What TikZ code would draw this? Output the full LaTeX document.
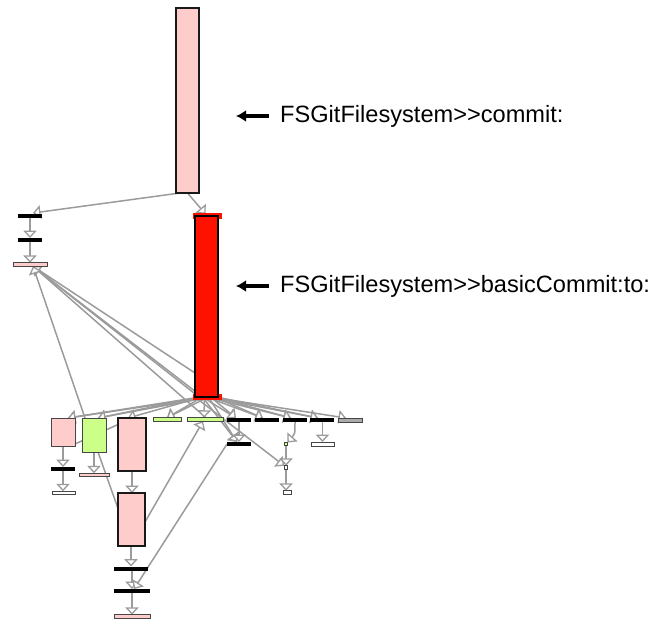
\documentclass[tikz,border=0pt]{standalone}
\usepackage{fontspec}
\setmainfont{Liberation Sans}
\usetikzlibrary{arrows.meta,calc}
\pgfdeclarelayer{edges}
\pgfsetlayers{edges,main}

\definecolor{pinkfill}{RGB}{255,204,204}
\definecolor{hotred}{RGB}{255,17,0}
\definecolor{limefill}{RGB}{204,255,136}
\definecolor{edgegray}{RGB}{155,155,155}
\definecolor{framegray}{RGB}{70,70,70}
\definecolor{bargray}{RGB}{170,170,170}

\begin{document}
\begin{tikzpicture}[x=1pt,y=-1pt,
  cell/.style={rectangle, inner sep=0pt, outer sep=0pt},
  bigcell/.style={cell, fill=pinkfill, draw=black!90, line width=1.8pt},
  softcell/.style={cell, fill=#1, draw=framegray, line width=0.9pt},
  blackbar/.style={cell, fill=black, minimum height=4pt},
  thinbar/.style={cell, fill=#1, draw=framegray, line width=0.9pt, minimum height=3.5pt},
  link/.style={draw=edgegray, line width=1.5pt,
    -{Triangle[open, fill=white, length=7.5pt, width=13.5pt, line width=1.3pt]}},
  plainlink/.style={draw=edgegray, line width=1.5pt},
  pointer/.style={draw=black, line width=3.2pt, -{Latex[length=10pt, width=12pt]}},
  caption/.style={anchor=base west, inner sep=0pt, font=\fontsize{23.6}{28}\selectfont}
]
\useasboundingbox (0,0) rectangle (651,622);

% top-level method and its callee
\node[bigcell, minimum width=23pt, minimum height=185pt] (commit) at (187.5,100.5) {};
\node[cell, fill=hotred, minimum width=29pt, minimum height=6pt] (topmark) at (207,216) {};
\node[cell, fill=hotred, minimum width=29pt, minimum height=6pt] (bottommark) at (207,396.5) {};
\node[cell, fill=hotred, draw=black, line width=1.8pt, minimum width=23pt, minimum height=181pt] (basic) at (206.5,306.5) {};

% left column
\node[blackbar, minimum width=24pt] (A1) at (30,216) {};
\node[blackbar, minimum width=24pt] (A2) at (30,240) {};
\node[thinbar=pinkfill, minimum width=34pt] (A3) at (30,264.5) {};

% first row of callees
\node[softcell=pinkfill, minimum width=24pt, minimum height=28pt] (B1) at (63,432) {};
\node[softcell=limefill, minimum width=24pt, minimum height=34pt] (B2) at (94,435) {};
\node[bigcell, minimum width=28pt, minimum height=53pt] (B3) at (132,444.5) {};
\node[thinbar=limefill, minimum width=28pt] (G1) at (167,419.5) {};
\node[thinbar=limefill, minimum width=36pt] (G2) at (205,419.5) {};
\node[blackbar, minimum width=24pt] (K1) at (239,420) {};
\node[blackbar, minimum width=24pt] (K2) at (267,420) {};
\node[blackbar, minimum width=24pt] (K3) at (295,420) {};
\node[blackbar, minimum width=24pt] (K4) at (322,420) {};
\node[thinbar=bargray, minimum width=24pt, minimum height=4pt] (GR) at (350,420) {};

% deeper levels
\node[blackbar, minimum width=24pt] (K5) at (63,469) {};
\node[thinbar=white, minimum width=23pt] (W1) at (63.5,493) {};
\node[thinbar=pinkfill, minimum width=30pt] (P2) at (94,475) {};
\node[bigcell, minimum width=27pt, minimum height=53pt] (B4) at (131.5,519.5) {};
\node[blackbar, minimum width=34pt] (K6) at (131,568.5) {};
\node[blackbar, minimum width=36pt] (K7) at (132,591) {};
\node[thinbar=pinkfill, minimum width=36pt] (P3) at (132,616.5) {};
\node[blackbar, minimum width=24pt] (K8) at (239,444) {};
\node[softcell=limefill, minimum width=3pt, minimum height=3pt] (Gdot) at (286,444) {};
\node[softcell=white, minimum width=3.5pt, minimum height=3.5pt] (Wsq) at (286,467.5) {};
\node[thinbar=white, minimum width=8pt] (W3) at (287,492.5) {};
\node[thinbar=white, minimum width=23pt, minimum height=4pt] (W2) at (322.5,444) {};

% captions
\node[caption] (lab1) at (280,122) {FSGitFilesystem>\kern0pt>commit:};
\node[caption] (lab2) at (280,292) {FSGitFilesystem>\kern0pt>basicCommit:to:};
\coordinate (tip1) at (236,116);
\coordinate (tip2) at (236,286);
\draw[pointer, shorten <=11pt] (lab1.west |- tip1) -- (tip1);
\draw[pointer, shorten <=11pt] (lab2.west |- tip2) -- (tip2);

\begin{pgfonlayer}{edges}
% calls out of commit
\draw[link] ($(commit.south)+(0,0)$) -- ($(basic.north)+(-1,-2)$);
\draw[link] ($(commit.south west)+(4,0)$) -- ($(A1.north)+(3,-1)$);
\draw[link] (A1) -- (A2);
\draw[link] (A2) -- (A3);

% edges gathering at the left bar
\draw[link] ($(basic.south west)+(0,-24)$) -- ($(A3.south)+(3,0)$);
\draw[link] ($(basic.south)+(-10,-2)$) -- ($(A3.south)+(3,0)$);
\draw[link] ($(basic.south)+(-4,0)$) -- ($(A3.south)+(3,0)$);
\draw[link] ($(G2.north)+(1,0)$) -- ($(A3.south)+(3,0)$);
\draw[link] ($(B2.north west)+(3,0)$) -- ($(A3.south)+(3,0)$);

% fan out of basicCommit:to:
\draw[link] ($(basic.south)+(-6,0)$) -- ($(B1.north)+(5,0)$);
\draw[link] ($(basic.south)+(2,0)$) -- ($(B1.north)+(5,0)$);
\draw[link] ($(basic.south)+(-6,0)$) -- ($(B2.north)+(4,0)$);
\draw[link] ($(basic.south)+(4,0)$) -- ($(B2.north)+(4,0)$);
\draw[link] ($(basic.south)+(-4,0)$) -- ($(B3.north)+(-4,0)$);
\draw[link] ($(basic.south)+(-4,0)$) -- (G1.north);
\draw[link] ($(basic.south)+(2,0)$) -- (G1.north);
\draw[link] ($(basic.south)+(-2,0)$) -- ($(G2.north)+(-1,0)$);
\draw[link] ($(basic.south)+(-4,0)$) -- ($(K1.north)+(-3,0)$);
\draw[link] ($(basic.south)+(4,0)$) -- ($(K1.north)+(-3,0)$);
\draw[link] ($(basic.south)+(0,0)$) -- ($(K2.north)+(-4,0)$);
\draw[link] ($(basic.south)+(8,0)$) -- ($(K2.north)+(-4,0)$);
\draw[link] ($(basic.south)+(0,0)$) -- ($(K3.north)+(-4,0)$);
\draw[link] ($(basic.south)+(8,0)$) -- ($(K3.north)+(-4,0)$);
\draw[link] ($(basic.south)+(2,0)$) -- ($(K4.north)+(-4,0)$);
\draw[link] ($(basic.south)+(10,0)$) -- ($(K4.north)+(-4,0)$);
\draw[link] ($(basic.south)+(4,0)$) -- ($(GR.north west)+(8,0)$);
\draw[link] ($(basic.south)+(-4,0)$) -- ($(K8.north)+(-2,0)$);
\draw[link] ($(basic.south)+(2,0)$) -- ($(K8.north)+(-2,0)$);
\draw[link] (basic.south west) -- (Wsq.north west);

% chains below the row
\draw[link] (K1) -- (K8);
\draw[link] (K3.south) .. controls ($(K3.south)+(0,12)$) .. (Gdot.north east);
\draw[link] (Gdot) -- (Wsq);
\draw[link] (Wsq) -- (W3.north -| Wsq);
\draw[link] (K4.south -| W2) -- (W2);
\draw[link] (B1) -- (K5);
\draw[link] (K5) -- (W1.north -| K5);
\draw[link] (B2) -- (P2);
\draw[link] (B3.south) -- (B4.north -| B3.south);
\draw[link] (B4.south -| K6) -- (K6);
\draw[link] (K6.south -| K7) -- (K7);
\draw[link] (K7) -- (P3);

% long cross edges
\draw[link] ($(B4.east)+(0,2.5)$) -- ($(G2.south)+(-2,0)$);
\draw[link] ($(K8.west)+(0,0)$) -- ($(K7.north)+(2,0)$);
\draw[plainlink] ($(B2.south)+(4,0)$) -- ($(B4.west)+(0,-11)$);
\draw[plainlink] ($(B1.east)+(0,12)$) -- ($(B3.west)+(0,-20)$);
\end{pgfonlayer}
\end{tikzpicture}
\end{document}
